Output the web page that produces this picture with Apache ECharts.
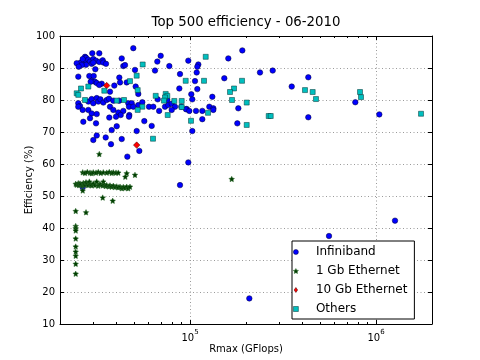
<!DOCTYPE html>
<html><head><meta charset="utf-8">
<script src="https://cdn.jsdelivr.net/npm/echarts@6/dist/echarts.min.js"></script>
<style>html,body{margin:0;padding:0;background:#fff}#c{width:480px;height:360px}</style>
</head><body><div id="c"></div>
<script>
const chartTitle = 'Top 500 efficiency - 06-2010';
const xName = 'Rmax (GFlops)';
const yName = 'Efficiency (%)';
const seriesNames = ['Infiniband', '1 Gb Ethernet', '10 Gb Ethernet', 'Others'];

// [Rmax (GFlops), efficiency (%)]
const infiniband = [
  [49560,96.2],[29830,94.6],[32530,94.6],[27260,93.5],[27600,93.2],[26920,92.3],[28390,92.6],[29000,92.0],
  [30200,92.8],[31240,92.3],[32530,91.9],[33930,92.4],[34190,91.7],[35350,91.3],[29610,91.3],[30200,91.7],
  [25840,91.7],[24590,91.5],[26490,92.8],[27600,91.0],[26170,90.9],[25210,90.4],[42940,93.0],[43790,90.6],
  [30970,89.6],[25080,87.3],[28750,87.5],[30350,87.5],[29610,86.0],[30850,85.7],[29240,85.7],[31510,85.3],
  [33510,85.1],[32530,84.7],[39170,84.5],[41680,87.0],[42050,85.5],[37140,82.6],
  [44730,90.9],[50600,89.4],[45680,85.5],[51040,84.2],[52720,81.9],[69570,93.8],[66710,92.0],[77400,90.6],
  [64820,89.2],[88350,88.1],[87600,83.6],[97920,92.3],[110820,91.1],[109460,90.4],[108640,88.6],[106380,85.9],
  [109460,83.4],
  [28390,79.5],[29610,80.3],[30200,79.0],[31510,80.6],[32130,79.5],[33000,80.2],[34190,79.2],[35660,80.0],
  [36680,80.4],[38690,79.8],[41680,79.8],[46590,79.0],[48590,79.0],[52720,78.4],[55400,79.3],[67040,80.2],
  [75500,80.0],[25080,79.0],[25620,78.1],
  [25080,77.9],[26490,76.9],[28390,76.9],[37140,77.9],[38690,76.9],[41170,76.1],[43790,76.6],[46990,77.9],
  [49560,77.9],[60200,77.9],[63470,77.9],[68240,76.6],[73380,77.9],[76430,78.4],[79730,78.8],[83050,77.9],
  [79730,76.9],[89800,77.9],[96000,77.2],[95170,77.1],[99130,76.6],[107710,76.6],[116440,76.6],[127010,77.9],
  [133460,77.4],[133460,76.9],[181870,77.4],
  [29610,75.8],[31510,75.6],[29000,74.3],[26690,73.2],[31240,72.7],[42410,75.3],[40010,74.8],[36810,74.5],
  [47160,75.3],[46990,74.8],[56790,73.4],[62230,71.9],[37930,70.6],[40360,71.8],[51680,70.3],[102890,70.3],
  [31510,68.9],[30200,67.5],[35220,68.3],[42940,67.8],[37600,66.2],[53380,64.1],[46020,62.3],[97920,60.5],
  [191100,95.5],[160660,93.0],[237830,88.6],[278380,89.2],[432510,87.1],[152900,86.8],[352240,84.2],
  [101620,81.8],[102890,80.2],[131810,81.0],[116440,74.0],[179620,72.7],[432510,74.6],[773930,79.3],
  [1041600,75.5],[208380,18.0],[558830,37.5],[1265200,42.3],[88350,53.4],[26490,52.7]
];

const gbEthernet1 = [
  [26490,57.4],[27260,57.2],[28050,57.5],[29000,57.3],[29610,57.1],[30200,57.4],[31240,57.3],[32130,57.5],
  [33110,57.2],[34190,57.4],[35660,57.3],[36810,57.5],[37930,57.2],[38690,57.4],[40010,57.3],[41170,57.3],
  [45680,57.1],[44900,56.0],[50600,56.6],
  [24290,53.8],[24590,53.5],[25080,54.0],[25300,53.4],[25620,53.9],[25940,53.6],[26490,53.2],[26690,54.1],
  [26920,53.7],[27260,53.5],[27600,54.3],[28050,53.8],[28390,53.4],[28750,54.5],[29000,53.6],[29610,53.3],
  [30200,53.9],[30850,53.4],[31510,54.5],[32130,53.2],[32530,53.7],[33110,53.6],[33930,53.3],[34190,54.5],
  [34610,53.5],[35220,53.1],[35660,53.4],[36680,53.0],[37140,53.3],[37930,52.9],[38690,53.2],[39520,52.8],
  [40360,53.0],[41170,52.7],[42050,52.9],[42940,52.4],[43790,52.8],[44730,52.5],[45680,52.9],[46590,52.4],
  [47570,52.9],
  [26490,51.7],[33930,49.5],[38400,48.5],[24290,45.3],[27600,44.9],[24290,40.6],[24290,39.9],[24290,39.2],
  [24290,36.7],[24290,34.2],[24290,32.6],[24290,31.3],[24290,28.8],[24290,25.7],[32530,63.1],[167560,55.3]
];

const gbEthernet10 = [[35660,84.5],[51680,65.9]];

const others = [
  [55670,91.1],[51680,87.6],[47570,85.9],[25940,83.6],[28390,84.2],[34610,82.9],[52330,83.1],[24590,82.1],
  [25080,81.6],[27260,80.0],[44180,80.0],[40360,79.8],[65400,81.3],[74020,81.9],[75500,81.3],[73380,80.8],
  [82330,79.7],[90240,79.7],[72470,79.8],[55400,77.9],[52330,76.9],[75870,75.3],[63240,67.9],[94810,86.0],
  [101250,73.5],[121470,93.5],[118930,86.0],[190400,86.0],[172420,83.6],[164080,82.5],[168190,80.0],
  [201760,79.2],[90240,77.8],[124970,76.0],[264940,75.0],[271600,75.0],[201760,72.2],[415160,83.1],
  [456630,82.5],[475710,80.3],[820350,82.5],[830580,80.9],[1745800,75.7]
];

const xRange = [20000, 2000000];
const xMajorTicks = [100000, 1000000];
const xMinorTicks = [30000,40000,50000,60000,70000,80000,90000,
  200000,300000,400000,500000,600000,700000,800000,900000];
const yRange = [10, 100];
const yStep = 10;

const FONT = 'DejaVu Sans';
const STAR = 'path://M0,-10L2.94,-4.05L9.51,-3.09L4.76,1.55L5.88,8.09L0,5L-5.88,8.09L-4.76,1.55L-9.51,-3.09L-2.94,-4.05Z';
const DIAMOND = 'path://M0,-10L7,0L0,10L-7,0Z';
const SQUARE = 'path://M-10,-10H10V10H-10Z';
const CIRCLE = 'path://M10,0A10,10,0,1,1,-10,0A10,10,0,1,1,10,0Z';
const gridBox = {left: 60, right: 48, top: 36, bottom: 36};
const gridLine = {show: true, lineStyle: {color: '#9a9a9a', width: 1, type: [1, 2.5]}};

const chart = echarts.init(document.getElementById('c'), null, {renderer: 'canvas'});

function logAxis(grid, pos, opts) {
  return Object.assign({
    type: 'log', logBase: 10, gridIndex: grid, position: pos,
    min: xRange[0], max: xRange[1],
    axisLine: {show: false},
    axisTick: {show: false},
    axisLabel: {show: false},
    splitLine: {show: false}
  }, opts);
}

const option = {
  animation: false,
  backgroundColor: '#ffffff',
  textStyle: {fontFamily: FONT},
  title: {
    text: chartTitle, left: 246, top: 16, textAlign: 'center', padding: 0,
    textStyle: {fontFamily: FONT, fontSize: 13.3, fontWeight: 'normal', color: '#000'}
  },
  grid: [Object.assign({}, gridBox), Object.assign({}, gridBox)],
  xAxis: [
    logAxis(0, 'bottom', {
      axisLine: {show: true, lineStyle: {color: '#000', width: 1}},
      axisTick: {show: true, inside: true, length: 4, customValues: xMajorTicks, lineStyle: {color: '#000'}},
      axisLabel: {
        show: true, customValues: xMajorTicks, margin: 5, color: '#000',
        formatter: v => '{b|10}{s|' + Math.round(Math.log10(v)) + '}',
        rich: {
          b: {fontFamily: FONT, fontSize: 10, color: '#000', lineHeight: 14, verticalAlign: 'bottom'},
          s: {fontFamily: FONT, fontSize: 7, color: '#000', lineHeight: 14, verticalAlign: 'top'}
        }
      },
      splitLine: gridLine,
      name: xName, nameLocation: 'middle', nameGap: 20, nameMoveOverlap: false,
      nameTextStyle: {fontFamily: FONT, fontSize: 10, color: '#000'}
    }),
    logAxis(0, 'top', {
      axisLine: {show: true, lineStyle: {color: '#000', width: 1}},
      axisTick: {show: true, inside: true, length: 4, customValues: xMajorTicks, lineStyle: {color: '#000'}}
    }),
    logAxis(1, 'bottom', {
      axisTick: {show: true, inside: true, length: 2, customValues: xMinorTicks, lineStyle: {color: '#000'}}
    }),
    logAxis(1, 'top', {
      axisTick: {show: true, inside: true, length: 2, customValues: xMinorTicks, lineStyle: {color: '#000'}}
    })
  ],
  yAxis: [
    {
      type: 'value', gridIndex: 0, position: 'left', min: yRange[0], max: yRange[1], interval: yStep,
      axisLine: {show: true, lineStyle: {color: '#000', width: 1}},
      axisTick: {show: true, inside: true, length: 4, lineStyle: {color: '#000'}},
      axisLabel: {margin: 5, color: '#000', fontFamily: FONT, fontSize: 10},
      splitLine: gridLine,
      name: yName, nameLocation: 'middle', nameGap: 26, nameRotate: 90, nameMoveOverlap: false,
      nameTextStyle: {fontFamily: FONT, fontSize: 10, color: '#000'}
    },
    {
      type: 'value', gridIndex: 0, position: 'right', min: yRange[0], max: yRange[1], interval: yStep,
      axisLine: {show: true, lineStyle: {color: '#000', width: 1}},
      axisTick: {show: true, inside: true, length: 4, lineStyle: {color: '#000'}},
      axisLabel: {show: false}, splitLine: {show: false}
    },
    {type: 'value', gridIndex: 1, min: yRange[0], max: yRange[1], show: false}
  ],
  legend: {
    left: 292, top: 241, orient: 'vertical', selectedMode: false,
    padding: [4, 7, 3, 1], itemGap: 5, itemWidth: 30, itemHeight: 5,
    symbolKeepAspect: true,
    borderColor: '#000', borderWidth: 1, borderRadius: 0, backgroundColor: '#fff',
    itemStyle: {borderWidth: 0.5},
    textStyle: {fontFamily: FONT, fontSize: 12, color: '#000', lineHeight: 14},
    data: [
      {name: seriesNames[0], icon: CIRCLE},
      {name: seriesNames[1], icon: STAR},
      {name: seriesNames[2], icon: DIAMOND},
      {name: seriesNames[3], icon: SQUARE}
    ]
  },
  series: [
    {name: seriesNames[0], type: 'scatter', xAxisIndex: 0, yAxisIndex: 0, data: infiniband,
     symbol: 'circle', symbolSize: 5.5,
     itemStyle: {color: '#0000ff', borderColor: '#000033', borderWidth: 0.5, opacity: 1}},
    {name: seriesNames[1], type: 'scatter', xAxisIndex: 0, yAxisIndex: 0, data: gbEthernet1,
     symbol: STAR, symbolSize: 5.5,
     itemStyle: {color: '#003d00', borderColor: '#2d6b2d', borderWidth: 0.5, opacity: 1}},
    {name: seriesNames[2], type: 'scatter', xAxisIndex: 0, yAxisIndex: 0, data: gbEthernet10,
     symbol: 'diamond', symbolSize: 6.5,
     itemStyle: {color: '#ff0000', borderColor: '#330000', borderWidth: 0.5, opacity: 1}},
    {name: seriesNames[3], type: 'scatter', xAxisIndex: 0, yAxisIndex: 0, data: others,
     symbol: 'rect', symbolSize: 5,
     itemStyle: {color: '#00bfbf', borderColor: '#003333', borderWidth: 0.5, opacity: 1}}
  ]
};
chart.setOption(option);
</script>
</body></html>
